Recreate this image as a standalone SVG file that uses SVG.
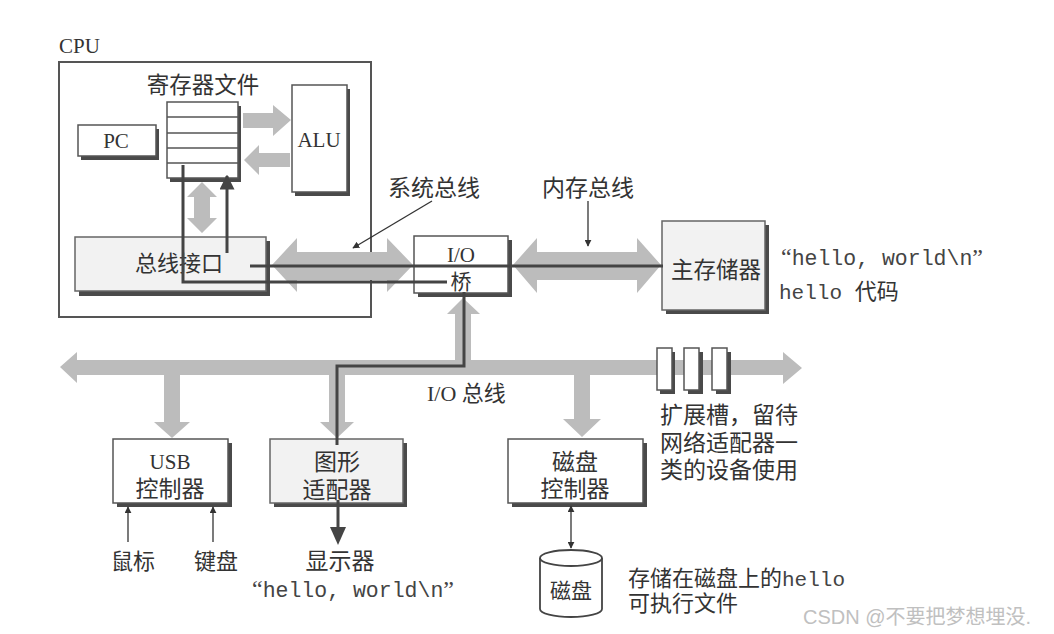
<svg xmlns="http://www.w3.org/2000/svg" width="1054" height="634" viewBox="0 0 1054 634">
<style>
.box{fill:#fff;stroke:#555;stroke-width:1.5}
.gbox{fill:#f2f2f2;stroke:#666;stroke-width:1.5}
.sh{fill:#4a4a4a}
.ga{fill:#bcbcbc}
.dk{fill:none;stroke:#444;stroke-width:3}
.thin{fill:none;stroke:#333;stroke-width:1.3}
.t{font-family:"Liberation Serif","Noto Sans CJK SC",serif;fill:#333;text-anchor:middle}
.tl{font-family:"Liberation Serif","Noto Sans CJK SC",serif;fill:#333}
.m{font-family:"Liberation Mono",monospace;fill:#444}
.q{font-family:"Liberation Serif",serif}
</style>
<defs>
<marker id="ah" viewBox="0 0 10 10" refX="9" refY="5" markerWidth="7" markerHeight="7" orient="auto-start-reverse" markerUnits="userSpaceOnUse">
<path d="M0,0 L10,5 L0,10 z" fill="#333"/>
</marker>
<marker id="ahd" viewBox="0 0 10 10" refX="9" refY="5" markerWidth="5" markerHeight="5" orient="auto" markerUnits="strokeWidth">
<path d="M0,0 L10,5 L0,10 z" fill="#444"/>
</marker>
</defs>

<g id="cpu">
<text class="tl" x="59" y="53" font-size="21">CPU</text>
<rect x="59" y="62" width="312" height="255" fill="none" stroke="#555" stroke-width="2"/>
</g>

<g id="regfile">
<text class="t" x="203" y="93" font-size="22.5">寄存器文件</text>
<rect class="sh" x="170" y="106" width="71" height="76"/>
<rect class="box" x="167" y="102" width="71" height="76"/>
<path d="M167,117 H238 M167,133 H238 M167,148 H238 M167,163 H238" stroke="#555" stroke-width="1.5"/>
</g>

<g id="pc">
<rect class="sh" x="81" y="129" width="78" height="31"/>
<rect class="box" x="78" y="125" width="78" height="31"/>
<text class="t" x="116" y="148" font-size="21">PC</text>
</g>

<g id="alu">
<rect class="sh" x="295" y="89" width="55" height="107"/>
<rect class="box" x="292" y="85" width="55" height="107"/>
<text class="t" x="319" y="147" font-size="21">ALU</text>
</g>

<g id="businterface">
<rect class="sh" x="79" y="241" width="191" height="55"/>
<rect class="gbox" x="75" y="237" width="191" height="54"/>
<text class="t" x="179" y="271" font-size="22">总线接口</text>
</g>

<g id="iobridge">
<rect class="sh" x="418" y="240" width="94" height="57"/>
<rect class="box" x="414" y="236" width="94" height="57"/>
</g>

<g id="mainmem">
<rect class="sh" x="666" y="225" width="103" height="89"/>
<rect class="gbox" x="662" y="221" width="103" height="89"/>
<text class="t" x="716" y="278" font-size="22.5">主存储器</text>
</g>

<g id="usb">
<rect class="sh" x="117" y="443" width="115" height="64"/>
<rect class="box" x="113" y="439" width="115" height="64"/>
<text class="t" x="170" y="469" font-size="21">USB</text>
<text class="t" x="170" y="497" font-size="23">控制器</text>
</g>

<g id="graphics">
<rect class="sh" x="274" y="443" width="133" height="64"/>
<rect class="gbox" x="270" y="439" width="133" height="64"/>
<text class="t" x="337" y="470" font-size="23">图形</text>
<text class="t" x="337" y="498" font-size="23">适配器</text>
</g>

<g id="diskctrl">
<rect class="sh" x="512" y="443" width="135" height="64"/>
<rect class="box" x="508" y="439" width="135" height="64"/>
<text class="t" x="575" y="470" font-size="23">磁盘</text>
<text class="t" x="575" y="497" font-size="23">控制器</text>
</g>

<g id="disk">
<path d="M540,558 V609 A31,8 0 0 0 602,609 V558" fill="#fff" stroke="#444" stroke-width="1.8"/>
<ellipse cx="571" cy="558" rx="31" ry="8" fill="#fff" stroke="#444" stroke-width="1.8"/>
<text class="t" x="571" y="598" font-size="21">磁盘</text>
</g>

<g id="connectors">
<polygon class="ga" points="243,113 273,113 273,105 291,120 273,136 273,128 243,128"/>
<polygon class="ga" points="290,153 259,153 259,145 244,160 259,175 259,167 290,167"/>
<polygon class="ga" points="202,182 217,197 210,197 210,218 217,218 202,233 187,218 194,218 194,197 187,197"/>
<polygon class="ga" points="272,265 297,238 297,252 387,252 387,238 413,265 387,292 387,280 297,280 297,292"/>
<polygon class="ga" points="513,265 537,238 537,252 637,252 637,238 661,265 637,293 637,280 537,280 537,293"/>
<polygon class="ga" points="60,367 77,352 77,360 783,360 783,352 802,368 783,384 783,375 77,375 77,383"/>
<polygon class="ga" points="164,375 180,375 180,422 190,422 172,438 154,422 164,422"/>
<polygon class="ga" points="329,375 345,375 345,422 354,422 337,438 320,422 329,422"/>
<polygon class="ga" points="574,375 590,375 590,419 601,419 582,437 563,419 574,419"/>
<polygon class="ga" points="455,360 471,360 471,314 480,314 463,298 447,314 455,314"/>
<path class="dk" d="M250,266 H663"/>
<path class="dk" d="M183,165 V282 H447"/>
<path class="dk" d="M227,253 V176" marker-end="url(#ahd)"/>
<path class="dk" d="M464,292 V366 H337 V445"/>
<path class="dk" d="M338,500 V532"/>
<polygon points="330,527 346,527 338,545" fill="#444"/>
<path class="thin" d="M432,201 L353,248" marker-end="url(#ah)"/>
<path class="thin" d="M588,201 V246" marker-end="url(#ah)"/>
<path class="thin" d="M128,542 V507" marker-end="url(#ah)"/>
<path class="thin" d="M213,542 V507" marker-end="url(#ah)"/>
<path class="thin" d="M571,506 V548" marker-start="url(#ah)" marker-end="url(#ah)"/>
</g>

<g id="bridgetext">
<text class="t" x="461" y="262" font-size="21">I/O</text>
<rect x="448" y="271" width="24" height="21" fill="#fff"/>
<text class="t" x="461" y="289" font-size="21">桥</text>
</g>

<g id="slots">
<rect class="sh" x="660" y="352" width="15" height="42"/>
<rect class="box" x="657" y="348" width="15" height="42"/>
<rect class="sh" x="688" y="352" width="15" height="42"/>
<rect class="box" x="684" y="348" width="15" height="42"/>
<rect class="sh" x="716" y="352" width="15" height="42"/>
<rect class="box" x="712" y="348" width="15" height="42"/>
</g>

<g id="labels">
<text class="t" x="434" y="196" font-size="23">系统总线</text>
<text class="t" x="588" y="196" font-size="23">内存总线</text>
<text class="tl" x="427" y="401" font-size="22">I/O 总线</text>
<text class="tl" x="660" y="423" font-size="23">扩展槽，留待</text>
<text class="tl" x="660" y="451" font-size="23">网络适配器一</text>
<text class="tl" x="660" y="478" font-size="23">类的设备使用</text>
<text class="m" x="781" y="265" font-size="21.5"><tspan class="q" font-size="24">“</tspan>hello, world\n<tspan class="q" font-size="24">”</tspan></text>
<text class="m" x="779" y="299" font-size="21">hello <tspan class="tl" font-size="22">代码</tspan></text>
<text class="t" x="133" y="569" font-size="22">鼠标</text>
<text class="t" x="216" y="569" font-size="22">键盘</text>
<text class="t" x="340" y="569" font-size="23">显示器</text>
<text class="m" x="252" y="597" font-size="21.5"><tspan class="q" font-size="24">“</tspan>hello, world\n<tspan class="q" font-size="24">”</tspan></text>
<text class="tl" x="628" y="586" font-size="22">存储在磁盘上的<tspan class="m" font-size="21">hello</tspan></text>
<text class="tl" x="628" y="611" font-size="22">可执行文件</text>
<text x="803" y="624" font-size="20" fill="#c0c0c0" font-family="'Liberation Sans','Noto Sans CJK SC',sans-serif">CSDN @不要把梦想埋没.</text>
</g>
</svg>
